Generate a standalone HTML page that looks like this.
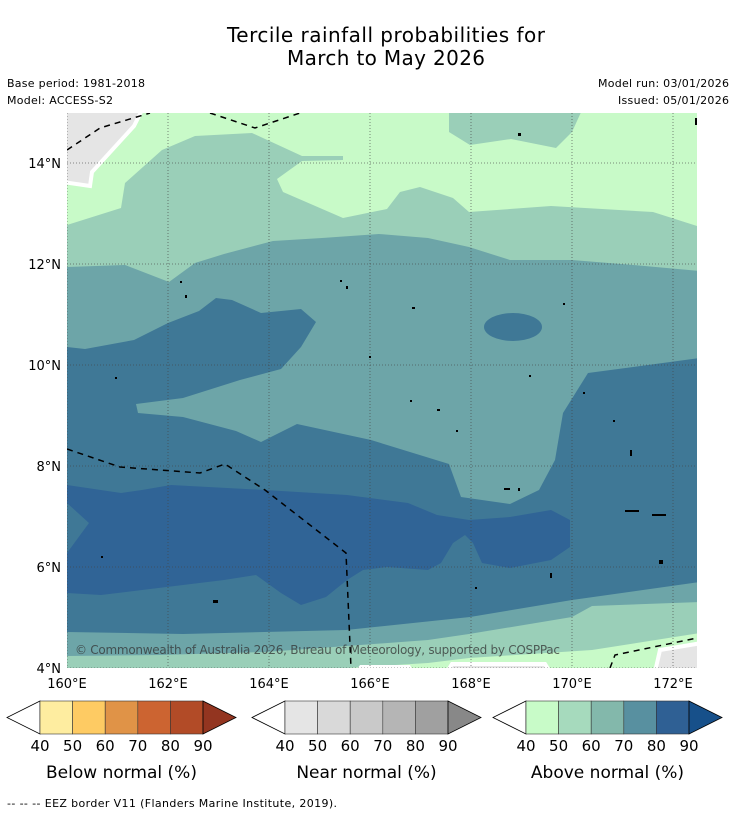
<!DOCTYPE html>
<html><head><meta charset="utf-8">
<style>
body{margin:0;background:#fff;width:736px;height:816px;overflow:hidden;font-family:"DejaVu Sans","Liberation Sans",sans-serif;}
svg{position:absolute;left:0;top:0;font-family:"DejaVu Sans","Liberation Sans",sans-serif}
</style></head>
<body>
<svg id="chart" width="736" height="816" viewBox="0 0 736 816" xmlns="http://www.w3.org/2000/svg">
<text x="386" y="42" text-anchor="middle" font-size="20" fill="#000" textLength="318">Tercile rainfall probabilities for</text>
<text x="386" y="65" text-anchor="middle" font-size="20" fill="#000" textLength="198">March to May 2026</text>
<text x="7" y="87" font-size="11" textLength="138">Base period: 1981-2018</text>
<text x="7" y="104" font-size="11" textLength="106">Model: ACCESS-S2</text>
<text x="729" y="87" font-size="11" text-anchor="end" textLength="131">Model run: 03/01/2026</text>
<text x="729" y="104" font-size="11" text-anchor="end" textLength="111">Issued: 05/01/2026</text>

<defs><clipPath id="mapclip"><rect x="67" y="113" width="630" height="555"/></clipPath></defs>
<g clip-path="url(#mapclip)">
<rect x="67" y="113" width="630" height="555" fill="#c8fac8"/>
<path fill="#9acfb8" d="M67,225 L121,208 L125,183 L162,150 L195,136 L252,133 L302,156 L343,156 L343,160 L302,161 L277,179 L283,192 L343,218 L387,209 L400,192 L420,187 L453,198 L469,212 L551,206 L653,212 L700,227 L700,633 L592,650 L469,658 L428,663 L347,668 L67,672 Z"/>
<path fill="#9acfb8" d="M449,110 L582,110 L572,132 L556,148 L511,139 L470,145 L449,132 Z"/>
<path fill="#c8fac8" d="M700,155 L690,183 L700,192 Z"/>
<path fill="#6da5a8" d="M67,267 L125,265 L169,282 L195,263 L224,254 L273,241 L322,238 L379,234 L428,238 L469,247 L510,260 L572,260 L633,265 L700,271 L700,602 L592,606 L572,617 L469,634 L428,640 L347,646 L265,652 L160,655 L67,656 Z"/>
<path fill="#3f7896" d="M67,347 L85,349 L134,340 L168,323 L199,311 L216,298 L232,300 L261,313 L301,309 L316,322 L301,347 L281,369 L240,380 L183,398 L136,404 L138,413 L183,417 L236,431 L261,442 L297,424 L371,440 L449,464 L461,497 L510,504 L539,490 L555,460 L563,413 L588,373 L700,358 L700,582 L572,600 L470,617 L346,630 L183,634 L67,632 Z"/>
<ellipse cx="513" cy="327" rx="29" ry="14" fill="#3f7896"/>
<path fill="#306496" d="M67,485 L121,493 L142,490 L171,485 L265,490 L347,495 L408,503 L437,515 L469,520 L510,517 L551,510 L570,520 L570,547 L551,560 L510,568 L482,563 L473,543 L465,535 L453,543 L441,563 L428,570 L387,567 L363,570 L347,580 L326,597 L301,605 L281,593 L256,575 L224,580 L142,590 L101,595 L67,593 L67,553 L89,523 L67,503 Z"/>
<path fill="#e5e5e5" stroke="#fff" stroke-width="4" d="M63,110 L142,110 L134,126 L92,172 L90,186 L63,182 Z"/>
<path fill="#e5e5e5" stroke="#fff" stroke-width="4" d="M447,672 L452,664 L545,664 L550,672 Z M655,672 L660,650 L702,643 L702,672 Z"/>
<path fill="#fff" d="M355,672 L360,665 L410,665 L414,672 Z"/>
<g id="grid" stroke="#444" stroke-width="0.8" stroke-dasharray="1,2" opacity="0.8"></g>
<g fill="none" stroke="#000" stroke-width="1.5" stroke-dasharray="6,5">
<path d="M67,150 L100,128 L150,113 M210,113 L255,128 L300,113"/>
<path d="M67,449 L120,467 L200,473 L225,464 L265,490 L346,553 L351,668"/>
<path d="M610,668 L615,655 L697,638"/>
</g>
<g fill="#000">
<rect x="180" y="281" width="2" height="2"/><rect x="185" y="295" width="2" height="3"/><rect x="340" y="280" width="2" height="2"/><rect x="346" y="286" width="2" height="3"/><rect x="412" y="307" width="3" height="2"/><rect x="563" y="303" width="2" height="2"/><rect x="369" y="356" width="2" height="2"/><rect x="115" y="377" width="2" height="2"/><rect x="529" y="375" width="2" height="2"/><rect x="410" y="400" width="2" height="2"/><rect x="437" y="409" width="3" height="2"/><rect x="456" y="430" width="2" height="2"/><rect x="504" y="488" width="6" height="2"/><rect x="518" y="488" width="2" height="3"/><rect x="625" y="510" width="14" height="2"/><rect x="652" y="514" width="14" height="2"/><rect x="101" y="556" width="2" height="2"/><rect x="213" y="600" width="5" height="3"/><rect x="550" y="573" width="2" height="5"/><rect x="475" y="587" width="2" height="2"/><rect x="659" y="560" width="4" height="4"/><rect x="583" y="392" width="2" height="2"/><rect x="613" y="420" width="2" height="2"/><rect x="630" y="450" width="2" height="6"/><rect x="518" y="133" width="3" height="3"/><rect x="695" y="118" width="2" height="7"/></g>
<text x="75" y="654" font-size="12" fill="#333" opacity="0.75" textLength="485">© Commonwealth of Australia 2026, Bureau of Meteorology, supported by COSPPac</text>
</g>
<g id="axes"></g>
<g id="colorbars"></g>
<text x="7" y="807" font-size="11" textLength="330">--  --  -- EEZ border V11 (Flanders Marine Institute, 2019).</text>
</svg>
<script>
const lonTicks=[160,162,164,166,168,170,172];
const latTicks=[14,12,10,8,6,4];
const cbLevels=[40,50,60,70,80,90];
const belowColors=["#feeda0","#fecb63","#e09347","#cc6431","#b24b27","#933520"];
const nearColors=["#e5e5e5","#d9d9d9","#c9c9c9","#b5b5b5","#a0a0a0","#888888"];
const aboveColors=["#c8fbc8","#a6dabd","#83b8ab","#5890a0","#2f6094","#17508a"];
const cbTitles=["Below normal (%)","Near normal (%)","Above normal (%)"];
const NS="http://www.w3.org/2000/svg";
function xs(lon){return 67+(lon-160)*50.5;}
function ys(lat){return 668-(lat-4)*50.5;}
function mk(t,a,p){const e=document.createElementNS(NS,t);for(const k in a)e.setAttribute(k,a[k]);p.appendChild(e);return e;}
const grid=document.getElementById('grid'),axes=document.getElementById('axes'),cbs=document.getElementById('colorbars');
lonTicks.forEach(l=>{const x=xs(l);
 const g=mk('line',{x1:x,y1:113,x2:x,y2:668},grid);
 
 
 const t=mk('text',{x:x,y:688,'font-size':13,'text-anchor':'middle'},axes);t.textContent=l+'°E';
 
 });
latTicks.forEach(l=>{const y=ys(l);
 const g=mk('line',{x1:67,y1:y,x2:697,y2:y},grid);
 
 
 const t=mk('text',{x:61,y:y+5,'font-size':13,'text-anchor':'end'},axes);t.textContent=l+'°N';
 
 });
const starts=[7,252,493];
[belowColors,nearColors,aboveColors].forEach((cols,i)=>{
 const x0=starts[i],y0=701,h=33,bw=32.6,bx=x0+33;
 const g=mk('g',{},cbs);
 
 
 mk('path',{d:`M${bx},${y0} L${x0},${y0+h/2} L${bx},${y0+h} Z`,fill:'#fff',stroke:'#000','stroke-width':0.8},g);
 for(let k=0;k<cbLevels.length-1;k++){
  const r=mk('rect',{x:bx+k*bw,y:y0,width:bw,height:h,fill:cols[k],stroke:'#333','stroke-width':0.6},g);
  
  }
 const ex=bx+5*bw;
 mk('path',{d:`M${ex},${y0} L${ex+33},${y0+h/2} L${ex},${y0+h} Z`,fill:cols[5],stroke:'#000','stroke-width':0.8},g);
 cbLevels.forEach((v,k)=>{const t=mk('text',{x:bx+k*bw,y:751,'font-size':15,'text-anchor':'middle'},g);t.textContent=v;
  
  });
 const tt=mk('text',{x:bx+2.5*bw,y:778,'font-size':17,'text-anchor':'middle'},g);tt.textContent=cbTitles[i];
 
 
});
</script>
</body></html>
